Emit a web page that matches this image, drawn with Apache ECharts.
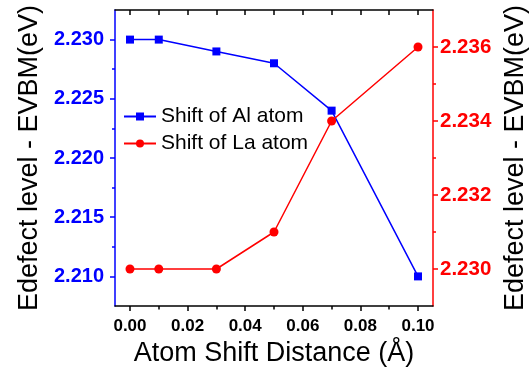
<!DOCTYPE html>
<html>
<head>
<meta charset="utf-8">
<script src="https://cdn.jsdelivr.net/npm/echarts@6/dist/echarts.min.js"></script>
<style>
  html, body { margin: 0; padding: 0; background: #fff; }
  #chart { width: 531px; height: 367px; }
</style>
</head>
<body>
<div id="chart"></div>
<script>
var shiftDistance = [0.00, 0.01, 0.03, 0.05, 0.07, 0.10];
var alShift = [2.230, 2.230, 2.229, 2.228, 2.224, 2.210];
var laShift = [2.230, 2.230, 2.230, 2.231, 2.234, 2.236];

var xTicks = [0.00, 0.02, 0.04, 0.06, 0.08, 0.10];
var xMinorTicks = [0.01, 0.03, 0.05, 0.07, 0.09];
var leftTicks = [2.210, 2.215, 2.220, 2.225, 2.230];
var leftMinorTicks = [2.2125, 2.2175, 2.2225, 2.2275];
var rightTicks = [2.230, 2.232, 2.234, 2.236];
var rightMinorTicks = [2.231, 2.233, 2.235];

var font = 'Liberation Sans, Arial, sans-serif';
var yName = 'Edefect level - EVBM(eV)';

function pairs(xs, ys) {
  return xs.map(function (x, i) { return [x, ys[i]]; });
}

var chart = echarts.init(document.getElementById('chart'));

var xRange = { min: -0.0052, max: 0.1052 };
var leftRange = { min: 2.2075, max: 2.2325 };
var rightRange = { min: 2.229, max: 2.237 };

var option = {
  animation: false,
  grid: { left: 115, right: 98, top: 10, bottom: 61, outerBoundsMode: 'none', containLabel: false },
  legend: {
    left: 123,
    top: 106,
    padding: 0,
    orient: 'vertical',
    itemWidth: 32,
    itemHeight: 10,
    itemGap: 6,
    textStyle: { fontFamily: font, fontSize: 21, color: '#000' },
    data: ['Shift of Al atom', 'Shift of La atom']
  },
  xAxis: [
    {
      type: 'value', position: 'bottom', min: xRange.min, max: xRange.max,
      name: 'Atom Shift Distance (Å)', nameLocation: 'middle', nameGap: 34,
      nameTextStyle: { fontFamily: font, fontSize: 27, color: '#000' },
      axisLine: { onZero: false, lineStyle: { color: '#000', width: 1.5 } },
      axisTick: { customValues: xTicks, length: 5, lineStyle: { color: '#000', width: 1.5 } },
      axisLabel: {
        customValues: xTicks, margin: 12,
        fontFamily: font, fontSize: 17, fontWeight: 'bold', color: '#000',
        formatter: function (v) { return v.toFixed(2); }
      },
      splitLine: { show: false }
    },
    {
      type: 'value', position: 'top', min: xRange.min, max: xRange.max,
      axisLine: { onZero: false, lineStyle: { color: '#000', width: 1.5 } },
      axisTick: { inside: true, customValues: xTicks.concat(xMinorTicks), length: 5, lineStyle: { color: '#000', width: 1.5 } },
      axisLabel: { show: false },
      splitLine: { show: false }
    },
    {
      type: 'value', position: 'bottom', min: xRange.min, max: xRange.max,
      axisLine: { show: false, onZero: false },
      axisTick: { customValues: xMinorTicks, length: 3.5, lineStyle: { color: '#000', width: 1.5 } },
      axisLabel: { show: false },
      splitLine: { show: false }
    }
  ],
  yAxis: [
    {
      type: 'value', position: 'left', min: leftRange.min, max: leftRange.max,
      name: yName, nameLocation: 'middle', nameRotate: 90, nameGap: 72,
      nameTextStyle: { fontFamily: font, fontSize: 27, color: '#000' },
      axisLine: { onZero: false, lineStyle: { color: '#0000ff', width: 1.5 } },
      axisTick: { customValues: leftTicks, length: 5, lineStyle: { color: '#0000ff', width: 1.5 } },
      axisLabel: {
        customValues: leftTicks, margin: 11,
        fontFamily: font, fontSize: 20, fontWeight: 'bold', color: '#0000ff',
        formatter: function (v) { return v.toFixed(3); }
      },
      splitLine: { show: false }
    },
    {
      type: 'value', position: 'right', min: rightRange.min, max: rightRange.max,
      name: yName, nameLocation: 'middle', nameRotate: 90, nameGap: 62,
      nameTextStyle: { fontFamily: font, fontSize: 27, color: '#000' },
      axisLine: { onZero: false, lineStyle: { color: '#ff0000', width: 1.5 } },
      axisTick: { customValues: rightTicks, length: 5, lineStyle: { color: '#ff0000', width: 1.5 } },
      axisLabel: {
        customValues: rightTicks, margin: 7,
        fontFamily: font, fontSize: 20.5, fontWeight: 'bold', color: '#ff0000',
        formatter: function (v) { return v.toFixed(3); }
      },
      splitLine: { show: false }
    },
    {
      type: 'value', position: 'left', min: leftRange.min, max: leftRange.max,
      axisLine: { show: false, onZero: false },
      axisTick: { customValues: leftMinorTicks, length: 3, lineStyle: { color: '#0000ff', width: 1.5 } },
      axisLabel: { show: false },
      splitLine: { show: false }
    },
    {
      type: 'value', position: 'right', min: rightRange.min, max: rightRange.max,
      axisLine: { show: false, onZero: false },
      axisTick: { customValues: rightMinorTicks, length: 3, lineStyle: { color: '#ff0000', width: 1.5 } },
      axisLabel: { show: false },
      splitLine: { show: false }
    }
  ],
  series: [
    {
      name: 'Shift of Al atom', type: 'line', xAxisIndex: 0, yAxisIndex: 0,
      symbol: 'rect', symbolSize: 8,
      itemStyle: { color: '#0000ff' },
      lineStyle: { color: '#0000ff', width: 1.5 },
      data: pairs(shiftDistance, alShift)
    },
    {
      name: 'Shift of La atom', type: 'line', xAxisIndex: 0, yAxisIndex: 1,
      symbol: 'circle', symbolSize: 9,
      itemStyle: { color: '#ff0000' },
      lineStyle: { color: '#ff0000', width: 1.5 },
      data: pairs(shiftDistance, laShift)
    }
  ]
};

chart.setOption(option);
</script>
</body>
</html>
